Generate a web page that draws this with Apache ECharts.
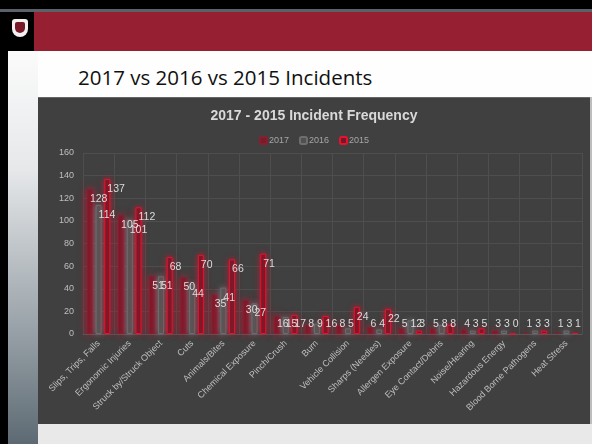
<!DOCTYPE html>
<html>
<head>
<meta charset="utf-8">
<script src="https://cdn.jsdelivr.net/npm/echarts@6/dist/echarts.min.js"></script>
<style>
html,body{margin:0;padding:0;width:592px;height:444px;overflow:hidden;background:#e9e9e9;}
#topblack{position:absolute;left:0;top:0;width:592px;height:9px;background:#000;}
#topgray{position:absolute;left:0;top:9px;width:592px;height:3px;background:#5a6168;}
#redband{position:absolute;left:0;top:12px;width:592px;height:39px;background:#961f31;}
#logobox{position:absolute;left:0;top:12px;width:34px;height:39px;background:#000;}
#logo{position:absolute;left:12px;top:19px;width:16px;height:18px;background:#f2f2f2;border-radius:3px 3px 8px 8px;}
#logoin{position:absolute;left:15px;top:22px;width:10px;height:11px;background:#7a1a28;border-radius:2px 2px 5px 5px;}
#leftblack{position:absolute;left:0;top:51px;width:8px;height:393px;background:#000;}
#leftstrip{position:absolute;left:8px;top:51px;width:30px;height:393px;background:linear-gradient(#fbfbfb,#e6e8ea 30%,#9aa3a9 70%,#5d6a73);}
#white{position:absolute;left:38px;top:51px;width:554px;height:46px;background:#fefefe;}
#heading{position:absolute;left:78px;top:63px;font-family:"Open Sans",sans-serif;font-size:20.5px;color:#111;white-space:nowrap;}
#chart{position:absolute;left:38px;top:97px;width:552px;height:326px;background:#404040;border-top:1px solid #666;}
#rightstrip{position:absolute;left:590px;top:97px;width:2px;height:327px;background:#bdbdbd;}
</style>
</head>
<body>
<div id="topblack"></div>
<div id="topgray"></div>
<div id="redband"></div>
<div id="logobox"></div>
<div id="logo"></div>
<div id="logoin"></div>
<div id="leftblack"></div>
<div id="leftstrip"></div>
<div id="white"></div>
<div id="heading">2017 vs 2016 vs 2015 Incidents</div>
<div id="chart"></div>
<div id="rightstrip"></div>
<script>
var categories = ["Slips, Trips, Falls","Ergonomic Injuries","Struck by/Struck Object","Cuts","Animals/Bites","Chemical Exposure","Pinch/Crush","Burn","Vehicle Collision","Sharps (Needles)","Allergen Exposure","Eye Contact/Debris","Noise/Hearing","Hazardous Energy","Blood Borne Pathogens","Heat Stress"];
var values2017 = [128,105,51,50,35,30,16,8,8,6,5,5,4,3,1,1];
var values2016 = [114,101,51,44,41,27,15,9,5,4,12,8,3,3,3,3];
var values2015 = [137,112,68,70,66,71,17,16,24,22,3,8,5,0,3,1];
var yTicks = {min:0, max:160, interval:20};

var chart = echarts.init(document.getElementById('chart'), null, {renderer:'canvas'});
var labelCfg = {show:true, position:'insideTop', color:'#dcdcdc', fontSize:10.5, fontFamily:'Liberation Sans', distance:4};
function lay(p){
  var r = p.rect;
  return {y: Math.min(r.y + 10, r.y + r.height - 10), verticalAlign:'middle'};
}
chart.setOption({
  backgroundColor:'#404040',
  animation:false,
  title:{text:'2017 - 2015 Incident Frequency', left:'center', top:6,
    textStyle:{color:'#d9d9d9', fontSize:14, fontWeight:'bold', fontFamily:'Liberation Sans'}},
  legend:{top:33, left:'center', itemWidth:7, itemHeight:7, itemGap:10,
    textStyle:{color:'#a6a6a6', fontSize:9, fontFamily:'Liberation Sans', padding:[0,0,0,-3]},
    data:['2017','2016','2015']},
  grid:{left:45, right:8, top:55, bottom:90},
  xAxis:{type:'category', data:categories,
    axisLine:{lineStyle:{color:'#595959'}}, axisTick:{show:false},
    splitLine:{show:true, lineStyle:{color:'#4e4e4e'}},
    axisLabel:{color:'#bfbfbf', fontSize:9, fontFamily:'Liberation Sans', rotate:45, interval:0, margin:8}},
  yAxis:{type:'value', min:yTicks.min, max:yTicks.max, interval:yTicks.interval,
    axisLine:{show:false}, axisTick:{show:false},
    splitLine:{lineStyle:{color:'#4e4e4e'}},
    axisLabel:{color:'#bfbfbf', fontSize:9, fontFamily:'Liberation Sans', margin:9}},
  series:[
    {name:'2017', type:'bar', data:values2017, barWidth:6, barGap:'45%', barCategoryGap:'40%',
      itemStyle:{color:'#761c2b', borderColor:'#8a1d2f', borderWidth:1, shadowBlur:8, shadowColor:'rgba(210,20,50,0.85)'},
      label:labelCfg, labelLayout:lay},
    {name:'2016', type:'bar', data:values2016, barWidth:6, barGap:'45%',
      itemStyle:{color:'#505050', borderColor:'#6e6e6e', borderWidth:1, shadowBlur:6, shadowColor:'rgba(150,150,160,0.6)'},
      label:labelCfg, labelLayout:lay},
    {name:'2015', type:'bar', data:values2015, barWidth:6, barGap:'45%',
      itemStyle:{color:'#701a28', borderColor:'#e8122f', borderWidth:1, shadowBlur:6, shadowColor:'rgba(220,20,50,0.75)'},
      label:labelCfg, labelLayout:lay}
  ]
});
</script>
</body>
</html>
